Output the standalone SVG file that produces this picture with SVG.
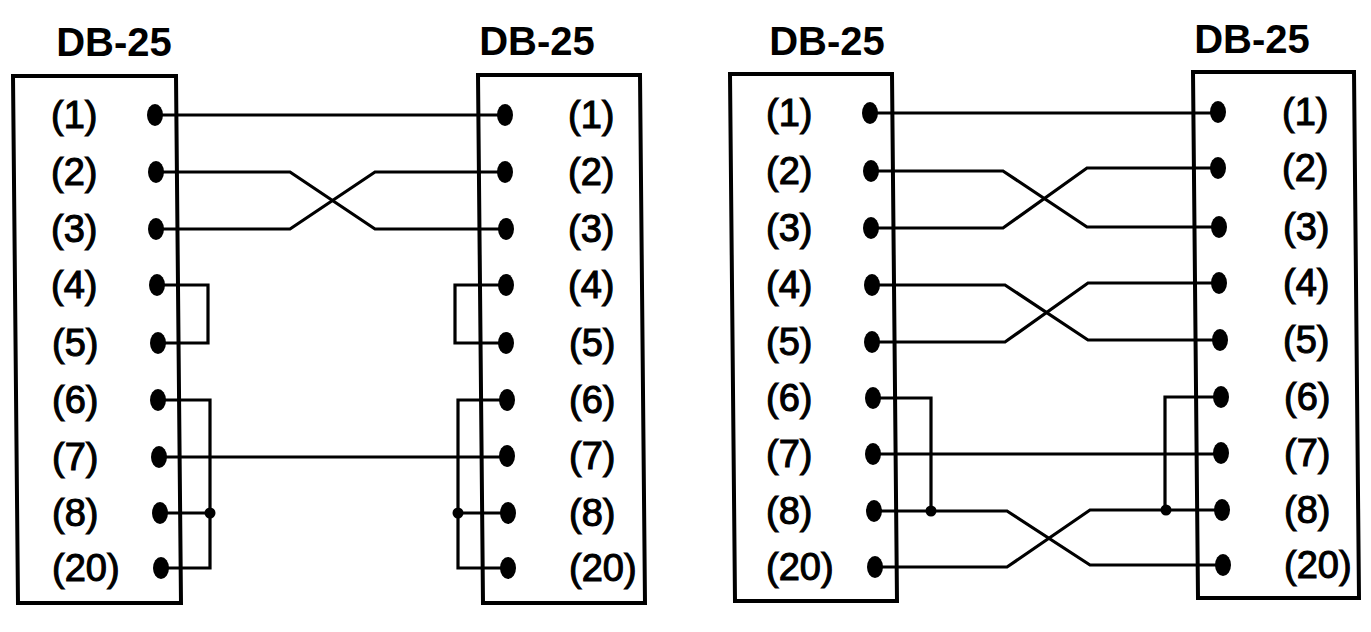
<svg xmlns="http://www.w3.org/2000/svg" width="1371" height="632" viewBox="0 0 1371 632">
<style>
.box{fill:none;stroke:#000;stroke-width:4;stroke-linejoin:miter}
.w{fill:none;stroke:#000;stroke-width:3.2;stroke-linejoin:miter}
.pin{fill:#000}
.j{fill:#000}
.hd{font-family:"Liberation Sans",Arial,sans-serif;font-weight:bold;font-size:40px;text-anchor:middle;fill:#000}
.lb{font-family:"Liberation Sans",Arial,sans-serif;font-size:38px;fill:#000;stroke:#000;stroke-width:1.1}
</style>
<rect width="1371" height="632" fill="#fff"/>
<g id="connectors">
<path class="w" d="M155,115 H505"/>
<path class="w" d="M156,172 H290 L375,229 H506"/>
<path class="w" d="M156,229 H290 L375,172 H505"/>
<path class="w" d="M157,285 H208 V343 H158"/>
<path class="w" d="M506,285 H455 V343 H506"/>
<path class="w" d="M158,400 H210 V568 H161 M160,513 H210"/>
<path class="w" d="M159,457 H507"/>
<path class="w" d="M507,400 H458 V568 H508 M508,513 H458"/>
<circle class="j" cx="210" cy="513" r="5.5"/>
<circle class="j" cx="458" cy="513" r="5.5"/>
<path class="w" d="M870,113 H1218"/>
<path class="w" d="M871,171 H1003 L1087,227 H1219"/>
<path class="w" d="M871,228 H1003 L1087,168 H1218"/>
<path class="w" d="M872,285 H1005 L1088,340 H1220"/>
<path class="w" d="M872,342 H1005 L1088,283 H1219"/>
<path class="w" d="M873,398 H931 V511"/>
<path class="w" d="M873,454 H1221"/>
<path class="w" d="M874,511 H1007 L1090,565 H1223"/>
<path class="w" d="M875,567 H1007 L1090,510 H1222"/>
<path class="w" d="M1221,397 H1165 V510"/>
<circle class="j" cx="931" cy="511" r="5.5"/>
<circle class="j" cx="1166" cy="510" r="5.5"/>
</g>
<g id="db25-a">
<text class="hd" x="114" y="56">DB-25</text>
<polygon class="box" points="13,76 176,76 181,603 18,603"/>
<ellipse class="pin" cx="155" cy="115" rx="8" ry="11"/>
<ellipse class="pin" cx="156" cy="172" rx="8" ry="11"/>
<ellipse class="pin" cx="156" cy="229" rx="8" ry="11"/>
<ellipse class="pin" cx="157" cy="285" rx="8" ry="11"/>
<ellipse class="pin" cx="158" cy="343" rx="8" ry="11"/>
<ellipse class="pin" cx="158" cy="400" rx="8" ry="11"/>
<ellipse class="pin" cx="159" cy="457" rx="8" ry="11"/>
<ellipse class="pin" cx="160" cy="513" rx="8" ry="11"/>
<ellipse class="pin" cx="161" cy="568" rx="8" ry="11"/>
<text class="lb" x="51" y="128">(1)</text>
<text class="lb" x="51" y="185">(2)</text>
<text class="lb" x="51" y="242">(3)</text>
<text class="lb" x="51" y="298">(4)</text>
<text class="lb" x="52" y="356">(5)</text>
<text class="lb" x="52" y="413">(6)</text>
<text class="lb" x="52" y="470">(7)</text>
<text class="lb" x="52" y="526">(8)</text>
<text class="lb" x="52" y="581">(20)</text>
</g>
<g id="db25-b">
<text class="hd" x="537" y="55">DB-25</text>
<polygon class="box" points="478,75 640,75 645,603 483,603"/>
<ellipse class="pin" cx="505" cy="115" rx="8" ry="11"/>
<ellipse class="pin" cx="505" cy="172" rx="8" ry="11"/>
<ellipse class="pin" cx="506" cy="229" rx="8" ry="11"/>
<ellipse class="pin" cx="506" cy="285" rx="8" ry="11"/>
<ellipse class="pin" cx="506" cy="343" rx="8" ry="11"/>
<ellipse class="pin" cx="507" cy="400" rx="8" ry="11"/>
<ellipse class="pin" cx="507" cy="456" rx="8" ry="11"/>
<ellipse class="pin" cx="508" cy="513" rx="8" ry="11"/>
<ellipse class="pin" cx="508" cy="568" rx="8" ry="11"/>
<text class="lb" x="568" y="128">(1)</text>
<text class="lb" x="568" y="185">(2)</text>
<text class="lb" x="568" y="242">(3)</text>
<text class="lb" x="568" y="298">(4)</text>
<text class="lb" x="569" y="356">(5)</text>
<text class="lb" x="569" y="413">(6)</text>
<text class="lb" x="569" y="469">(7)</text>
<text class="lb" x="569" y="526">(8)</text>
<text class="lb" x="569" y="581">(20)</text>
</g>
<g id="db25-c">
<text class="hd" x="827" y="55">DB-25</text>
<polygon class="box" points="730,74 892,74 897,601 735,601"/>
<ellipse class="pin" cx="870" cy="113" rx="8" ry="11"/>
<ellipse class="pin" cx="871" cy="171" rx="8" ry="11"/>
<ellipse class="pin" cx="871" cy="228" rx="8" ry="11"/>
<ellipse class="pin" cx="872" cy="285" rx="8" ry="11"/>
<ellipse class="pin" cx="872" cy="342" rx="8" ry="11"/>
<ellipse class="pin" cx="873" cy="398" rx="8" ry="11"/>
<ellipse class="pin" cx="873" cy="454" rx="8" ry="11"/>
<ellipse class="pin" cx="874" cy="511" rx="8" ry="11"/>
<ellipse class="pin" cx="875" cy="567" rx="8" ry="11"/>
<text class="lb" x="766" y="126">(1)</text>
<text class="lb" x="766" y="184">(2)</text>
<text class="lb" x="766" y="241">(3)</text>
<text class="lb" x="766" y="298">(4)</text>
<text class="lb" x="766" y="355">(5)</text>
<text class="lb" x="766" y="411">(6)</text>
<text class="lb" x="766" y="467">(7)</text>
<text class="lb" x="766" y="524">(8)</text>
<text class="lb" x="766" y="580">(20)</text>
</g>
<g id="db25-d">
<text class="hd" x="1252" y="53">DB-25</text>
<polygon class="box" points="1193,72 1354,72 1359,598 1198,598"/>
<ellipse class="pin" cx="1218" cy="112" rx="8" ry="11"/>
<ellipse class="pin" cx="1218" cy="168" rx="8" ry="11"/>
<ellipse class="pin" cx="1219" cy="227" rx="8" ry="11"/>
<ellipse class="pin" cx="1219" cy="283" rx="8" ry="11"/>
<ellipse class="pin" cx="1220" cy="340" rx="8" ry="11"/>
<ellipse class="pin" cx="1221" cy="397" rx="8" ry="11"/>
<ellipse class="pin" cx="1221" cy="453" rx="8" ry="11"/>
<ellipse class="pin" cx="1222" cy="510" rx="8" ry="11"/>
<ellipse class="pin" cx="1223" cy="565" rx="8" ry="11"/>
<text class="lb" x="1282" y="125">(1)</text>
<text class="lb" x="1282" y="181">(2)</text>
<text class="lb" x="1283" y="240">(3)</text>
<text class="lb" x="1283" y="296">(4)</text>
<text class="lb" x="1283" y="353">(5)</text>
<text class="lb" x="1284" y="410">(6)</text>
<text class="lb" x="1284" y="466">(7)</text>
<text class="lb" x="1284" y="523">(8)</text>
<text class="lb" x="1284" y="578">(20)</text>
</g>
</svg>
